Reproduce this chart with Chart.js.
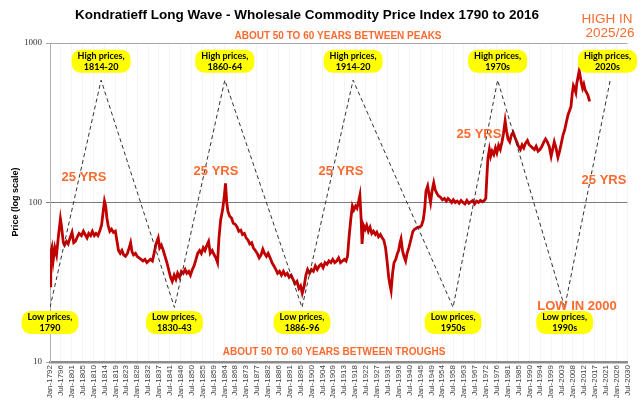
<!DOCTYPE html>
<html>
<head>
<meta charset="utf-8">
<script src="https://cdn.jsdelivr.net/npm/chart.js@4.4.1/dist/chart.umd.min.js"></script>
<style>
  html, body { margin: 0; padding: 0; background: #fff; }
  canvas { display: block; }
</style>
</head>
<body>
<canvas id="myChart" width="640" height="416"></canvas>
<script>
// x-axis tick labels (every 4.5 years)
const tickLabels = [
  "Jan-1792", "Jul-1796", "Jan-1801", "Jul-1805", "Jan-1810", "Jul-1814", "Jan-1819", "Jul-1823",
  "Jan-1828", "Jul-1832", "Jan-1837", "Jul-1841", "Jan-1846", "Jul-1850", "Jan-1855", "Jul-1859",
  "Jan-1864", "Jul-1868", "Jan-1873", "Jul-1877", "Jan-1882", "Jul-1886", "Jan-1891", "Jul-1895",
  "Jan-1900", "Jul-1904", "Jan-1909", "Jul-1913", "Jan-1918", "Jul-1922", "Jan-1927", "Jul-1931",
  "Jan-1936", "Jul-1940", "Jan-1945", "Jul-1949", "Jan-1954", "Jul-1958", "Jan-1963", "Jul-1967",
  "Jan-1972", "Jul-1976", "Jan-1981", "Jul-1985", "Jan-1990", "Jul-1994", "Jan-1999", "Jul-2003",
  "Jan-2008", "Jul-2012", "Jan-2017", "Jul-2021", "Jan-2026", "Jul-2030",
];
const yTicks = [10, 100, 1000];

// wholesale commodity price index
const priceYears = [
  1792.0, 1792.3, 1792.8, 1793.3, 1794.0, 1794.7, 1795.5, 1796.3, 1796.8, 1797.5,
  1798.0, 1798.8, 1799.5, 1800.3, 1801.1, 1801.8, 1802.5, 1803.3, 1804.0, 1805.0,
  1805.8, 1806.5, 1807.3, 1808.0, 1808.8, 1809.5, 1810.3, 1811.0, 1811.8, 1812.5,
  1813.3, 1813.9, 1814.5, 1815.0, 1815.5, 1816.0, 1816.7, 1817.4, 1818.2, 1819.0,
  1819.6, 1820.3, 1821.0, 1821.7, 1822.4, 1823.2, 1824.0, 1824.7, 1825.3, 1825.9,
  1826.5, 1827.3, 1828.0, 1828.8, 1829.6, 1830.4, 1831.2, 1832.0, 1832.7, 1833.5,
  1834.3, 1835.0, 1835.8, 1836.7, 1837.3, 1838.0, 1838.8, 1839.5, 1840.3, 1841.0,
  1841.8, 1842.5, 1843.3, 1844.0, 1844.7, 1845.5, 1846.3, 1847.0, 1847.8, 1848.5,
  1849.3, 1850.0, 1850.8, 1851.5, 1852.3, 1853.0, 1853.8, 1854.5, 1855.3, 1856.0,
  1856.8, 1857.5, 1858.2, 1859.0, 1859.8, 1860.5, 1861.2, 1861.8, 1862.5, 1863.3,
  1864.0, 1864.5, 1865.0, 1865.5, 1866.2, 1867.0, 1867.7, 1868.5, 1869.3, 1870.0,
  1870.8, 1871.5, 1872.3, 1873.0, 1873.8, 1874.5, 1875.3, 1876.0, 1876.8, 1877.6,
  1878.4, 1879.2, 1879.9, 1880.6, 1881.4, 1882.1, 1882.9, 1883.7, 1884.5, 1885.3,
  1886.0, 1886.8, 1887.6, 1888.4, 1889.2, 1890.0, 1890.8, 1891.6, 1892.4, 1893.2,
  1894.0, 1894.8, 1895.5, 1896.2, 1897.0, 1897.7, 1898.4, 1899.2, 1900.0, 1900.8,
  1901.6, 1902.4, 1903.2, 1904.0, 1904.8, 1905.6, 1906.4, 1907.2, 1908.0, 1908.8,
  1909.6, 1910.4, 1911.2, 1912.0, 1912.8, 1913.6, 1914.3, 1914.9, 1915.5, 1916.3,
  1916.9, 1917.5, 1918.2, 1918.8, 1919.5, 1920.0, 1920.5, 1920.9, 1921.5, 1922.2,
  1922.8, 1923.5, 1924.2, 1924.9, 1925.6, 1926.4, 1927.0, 1927.7, 1928.5, 1929.2,
  1929.9, 1930.6, 1931.3, 1931.9, 1932.5, 1932.9, 1933.5, 1934.1, 1934.8, 1935.5,
  1936.0, 1936.6, 1937.0, 1937.6, 1938.2, 1938.9, 1939.5, 1940.2, 1941.0, 1941.9,
  1942.6, 1943.3, 1944.0, 1944.8, 1945.5, 1946.2, 1946.8, 1947.3, 1948.0, 1948.6,
  1949.2, 1949.8, 1950.5, 1951.1, 1951.8, 1952.5, 1953.3, 1954.1, 1954.9, 1955.7,
  1956.4, 1957.2, 1957.9, 1958.6, 1959.4, 1960.2, 1961.0, 1961.8, 1962.6, 1963.4,
  1964.2, 1965.0, 1965.8, 1966.6, 1967.4, 1968.2, 1969.0, 1969.8, 1970.6, 1971.4,
  1972.0, 1972.5, 1972.9, 1973.5, 1974.0, 1974.6, 1975.3, 1976.0, 1976.6, 1977.3,
  1978.0, 1978.7, 1979.3, 1980.0, 1980.6, 1981.2, 1981.9, 1982.6, 1983.3, 1984.1,
  1984.8, 1985.5, 1986.3, 1987.0, 1987.7, 1988.4, 1989.2, 1989.9, 1990.6, 1991.3,
  1992.1, 1992.8, 1993.6, 1994.4, 1995.2, 1996.0, 1996.7, 1997.4, 1998.2, 1999.0,
  1999.6, 2000.3, 2001.0, 2001.8, 2002.5, 2003.2, 2003.9, 2004.6, 2005.3, 2006.0,
  2006.7, 2007.2, 2007.7, 2008.2, 2008.7, 2009.2, 2009.6, 2010.0, 2010.6, 2011.0,
  2011.5, 2012.0, 2012.5, 2013.0, 2013.6, 2014.2, 2014.9,
];
const priceValues = [
  30, 48, 52, 43, 52, 47, 62, 79, 70, 56,
  54, 57, 55, 60, 65, 56, 57, 61, 64, 62,
  66, 63, 60, 64, 62, 66, 62, 64, 62, 66,
  72, 86, 102, 95, 80, 72, 66, 68, 65, 66,
  58, 50, 48, 50, 47, 46, 48, 52, 56, 49,
  47, 48, 46, 45, 44, 43, 44, 42, 43, 44,
  43, 48, 55, 60, 52, 54, 50, 46, 42, 38,
  34, 32, 35, 33, 36, 34, 37, 36, 38, 36,
  37, 35, 38, 40, 44, 48, 50, 48, 52, 50,
  54, 57, 48, 50, 47, 45, 42, 60, 78, 90,
  110, 132, 100, 88, 82, 80, 74, 73, 70, 66,
  67, 63, 64, 60, 58, 55, 56, 52, 50, 48,
  45, 47, 51, 48, 46, 48, 45, 42, 40, 38,
  36, 37, 35, 37, 35, 36, 34, 35, 33, 31,
  32, 29, 30, 27, 30, 35, 38, 36, 38, 37,
  40, 38, 40, 41, 39, 42, 41, 43, 42, 44,
  42, 43, 45, 42, 43, 44, 43, 46, 60, 80,
  95, 90, 95, 92, 102, 111, 80, 55, 72, 68,
  72, 66, 70, 64, 66, 63, 65, 61, 63, 60,
  58, 52, 42, 34, 30, 28, 36, 42, 44, 48,
  50, 56, 59, 50, 46, 43, 48, 52, 58, 66,
  68, 69, 70, 70, 72, 78, 92, 118, 127, 112,
  100, 118, 133, 120, 114, 110, 108, 104, 106, 102,
  106, 103, 100, 104, 100, 102, 99, 103, 100, 98,
  103, 99, 101, 103, 98, 102, 100, 103, 101, 103,
  106, 150, 190, 215, 195, 210, 200, 220, 205, 228,
  215, 240, 270, 325, 280, 250, 240, 265, 275, 255,
  240, 225, 215, 230, 220, 235, 245, 230, 225, 220,
  215, 225, 210, 215, 225, 240, 250, 240, 225, 195,
  215, 240, 220, 192, 210, 235, 265, 285, 320, 355,
  380, 400, 480, 540, 520, 490, 560, 600, 670, 620,
  560, 520, 550, 510, 490, 470, 430,
];

// idealised long wave (dashed zigzag) and its notes
const waveYears = [1792.0, 1813.1, 1843.4, 1864.2, 1896.1, 1917.2, 1958.5, 1976.9, 2004.6, 2023.4];
const waveValues = [22, 585, 22, 585, 22, 585, 22, 585, 22, 585];
const waveLabels = [
  ["Low prices,", "1790"], ["High prices,", "1814-20"], ["Low prices,", "1830-43"],
  ["High prices,", "1860-64"], ["Low prices,", "1886-96"], ["High prices,", "1914-20"],
  ["Low prices,", "1950s"], ["High prices,", "1970s"], ["Low prices,", "1990s"],
  ["High prices,", "2020s"],
];

const tickValues = tickLabels.map((l) => +l.slice(4) + (l.startsWith("Jul") ? 0.5 : 0));
const orange = "#F96B30";

const annotate = {
  id: "annotate",
  afterDraw(chart) {
    const { ctx, scales } = chart;
    const sx = scales.x, sy = scales.y;
    ctx.save();
    ctx.textAlign = "center";
    ctx.textBaseline = "middle";

    // title
    ctx.fillStyle = "#000";
    ctx.font = "bold 13.5px 'Liberation Sans', Arial, sans-serif";
    ctx.fillText("Kondratieff Long Wave - Wholesale Commodity Price Index 1790 to 2016", 307, 15);

    // y-axis title
    ctx.save();
    ctx.translate(16, 202);
    ctx.rotate(-Math.PI / 2);
    ctx.font = "bold 9px 'Liberation Sans', Arial, sans-serif";
    ctx.fillText("Price (log scale)", 0, 0);
    ctx.restore();

    // orange notes
    ctx.fillStyle = orange;
    ctx.font = "bold 10px 'Liberation Sans', Arial, sans-serif";
    ctx.fillText("ABOUT 50 TO 60 YEARS BETWEEN PEAKS", 338, 36);
    ctx.fillText("ABOUT 50 TO 60 YEARS BETWEEN TROUGHS", 334, 352);
    ctx.font = "bold 13px 'Liberation Sans', Arial, sans-serif";
    [[84, 177], [216, 171], [341, 171], [479, 134], [604, 180]].forEach(([px, py]) => {
      ctx.fillText("25 YRS", px, py);
    });
    ctx.fillText("LOW IN 2000", 577, 306);
    ctx.font = "13.5px 'Liberation Sans', Arial, sans-serif";
    ctx.fillText("HIGH IN", 607, 19);
    ctx.fillText("2025/26", 610, 33);

    // yellow boxes at the wave turning points
    ctx.font = "bold 9px Lato, 'Liberation Sans', sans-serif";
    waveLabels.forEach((lines, i) => {
      const high = waveValues[i] > 100;
      const w = Math.max(...lines.map((t) => ctx.measureText(t).width)) + 12;
      const h = 23;
      let cx = sx.getPixelForValue(waveYears[i]);
      cx = Math.min(cx, 637 - w / 2);
      const cy = sy.getPixelForValue(waveValues[i]) + (high ? -19 : 15);
      ctx.fillStyle = "#FFFF00";
      ctx.beginPath();
      ctx.roundRect(cx - w / 2, cy - h / 2, w, h, 9);
      ctx.fill();
      ctx.fillStyle = "#000";
      ctx.fillText(lines[0], cx, cy - 5);
      ctx.fillText(lines[1], cx, cy + 6);
    });
    ctx.restore();
  },
};

const ctx = document.getElementById("myChart");

new Chart(ctx, {
  type: "line",
  data: {
    datasets: [
      {
        label: "Long wave",
        data: waveYears.map((yr, i) => ({ x: yr, y: waveValues[i] })),
        borderColor: "#333333",
        borderWidth: 1,
        borderDash: [4, 3],
        pointRadius: 0,
        tension: 0,
      },
      {
        label: "Price index",
        data: priceYears.map((yr, i) => ({ x: yr, y: priceValues[i] })),
        borderColor: "#C00000",
        borderWidth: 2.8,
        pointRadius: 0,
        tension: 0,
      },
    ],
  },
  options: {
    responsive: false,
    animation: false,
    layout: { padding: { top: 43, right: 6, left: 0, bottom: 0 } },
    plugins: {
      legend: { display: false },
      tooltip: { enabled: false },
    },
    scales: {
      x: {
        type: "linear",
        min: 1792,
        max: 2030.5,
        afterBuildTicks: (scale) => {
          scale.ticks = tickValues.map((v) => ({ value: v }));
        },
        afterFit: (scale) => {
          scale.height = 54;
        },
        ticks: {
          autoSkip: false,
          minRotation: 90,
          maxRotation: 90,
          padding: 3,
          color: "#404040",
          font: { family: "'Liberation Sans', Arial, sans-serif", size: 8 },
          callback: (value, index) => tickLabels[index],
        },
        grid: { color: "rgba(0, 0, 0, 0.04)", drawTicks: false },
        border: { color: "#8c8c8c", width: 2.5 },
      },
      y: {
        type: "logarithmic",
        min: 10,
        max: 1000,
        afterBuildTicks: (scale) => {
          scale.ticks = yTicks.map((v) => ({ value: v }));
        },
        afterFit: (scale) => {
          scale.width = 50;
        },
        ticks: {
          padding: 4,
          color: "#333",
          font: { family: "'Liberation Serif', serif", size: 9 },
          callback: (value) => value,
        },
        grid: {
          color: (c) => (c.tick && c.tick.value === 100 ? "#7a7a7a" : "#a6a6a6"),
          tickLength: 4,
        },
        border: { color: "#b0b0b0" },
      },
    },
  },
  plugins: [annotate],
});
</script>
</body>
</html>
